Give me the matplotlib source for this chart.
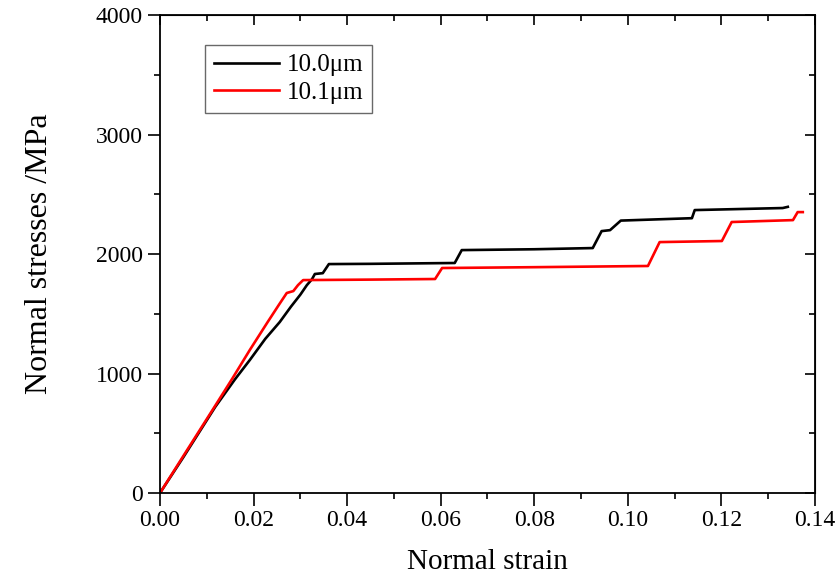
import matplotlib
matplotlib.use("Agg")
import matplotlib.pyplot as plt
from matplotlib.ticker import MultipleLocator

# curve: 10.0 um grain
strain_100 = [0.0, 0.005, 0.0118, 0.016, 0.0192, 0.0225, 0.0256, 0.028, 0.030, 0.0314,
              0.0325, 0.0331, 0.0348, 0.0361, 0.045, 0.063, 0.0645, 0.080, 0.0925,
              0.0944, 0.0962, 0.0985, 0.1137, 0.1143, 0.1331, 0.1342]
stress_100 = [0, 300, 720, 950, 1113, 1290, 1431, 1560, 1660, 1740,
              1790, 1833, 1840, 1916, 1918, 1925, 2033, 2040, 2050,
              2192, 2200, 2280, 2300, 2368, 2385, 2395]

# 10.1 um grain
strain_101 = [0.0, 0.005, 0.0118, 0.0155, 0.0192, 0.023, 0.0255, 0.0271, 0.0285, 0.0295,
              0.0306, 0.045, 0.0588, 0.0603, 0.080, 0.1043, 0.1068, 0.1201, 0.1222,
              0.1353, 0.1363, 0.1374]
stress_101 = [0, 310, 730, 960, 1197, 1430, 1580, 1674, 1690, 1740,
              1782, 1786, 1791, 1883, 1890, 1900, 2100, 2109, 2268,
              2284, 2351, 2351]

labels = ["10.0\u03bcm", "10.1\u03bcm"]

plt.rcParams["font.family"] = ["Liberation Serif", "DejaVu Serif"]

fig = plt.figure(figsize=(8.35, 5.8), dpi=100)
ax = fig.add_axes([0.1916, 0.15, 0.7844, 0.824])

ax.plot(strain_100, stress_100, color="black", lw=1.9, label=labels[0])
ax.plot(strain_101, stress_101, color="#ff0000", lw=1.9, label=labels[1])

ax.set_xlim(0, 0.14)
ax.set_ylim(0, 4000)
ax.xaxis.set_major_locator(MultipleLocator(0.02))
ax.xaxis.set_minor_locator(MultipleLocator(0.01))
ax.yaxis.set_major_locator(MultipleLocator(1000))
ax.yaxis.set_minor_locator(MultipleLocator(500))
ax.xaxis.set_major_formatter(lambda v, p: f"{v:.2f}")
ax.tick_params(which="major", direction="out", length=9, width=1.2, labelsize=17)
ax.tick_params(which="minor", direction="out", length=4.5, width=1.2)
for s in ax.spines.values():
    s.set_linewidth(1.3)

# inward ticks on the top and right frame
top = ax.secondary_xaxis("top")
top.xaxis.set_major_locator(MultipleLocator(0.02))
top.xaxis.set_minor_locator(MultipleLocator(0.01))
top.tick_params(which="both", direction="in", labeltop=False, width=1.2)
top.tick_params(which="major", length=7)
top.tick_params(which="minor", length=4)
right = ax.secondary_yaxis("right")
right.yaxis.set_major_locator(MultipleLocator(1000))
right.yaxis.set_minor_locator(MultipleLocator(500))
right.tick_params(which="both", direction="in", labelright=False, width=1.2)
right.tick_params(which="major", length=7)
right.tick_params(which="minor", length=4)

ax.set_xlabel("Normal strain", fontsize=21, labelpad=13)
ax.set_ylabel("Normal stresses /MPa", fontsize=23, labelpad=30)

leg = ax.legend(loc="upper left", bbox_to_anchor=(0.069, 0.937), borderaxespad=0,
                fontsize=18, frameon=True, fancybox=False, handlelength=2.6,
                handletextpad=0.3, borderpad=0.35, labelspacing=0.2)
leg.get_frame().set_edgecolor("#444444")
leg.get_frame().set_linewidth(1.0)

fig.savefig("out.png", dpi=100)
